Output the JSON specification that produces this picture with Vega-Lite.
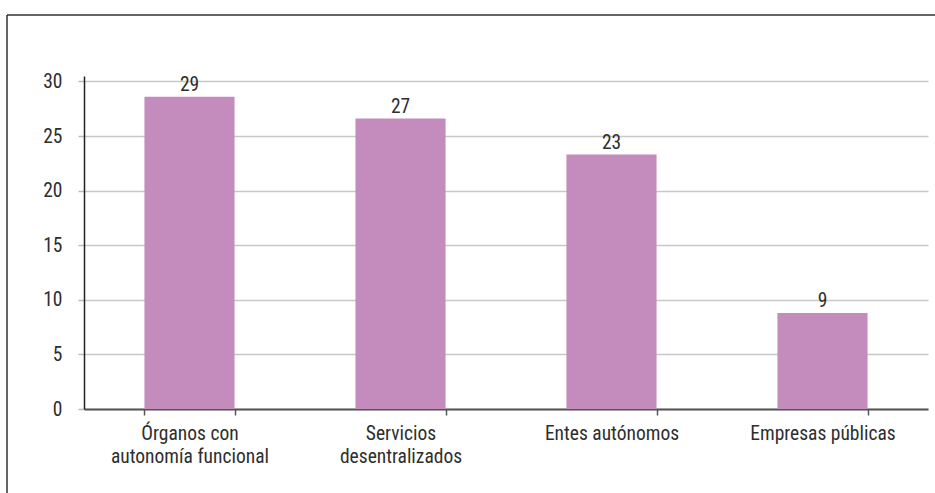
{
  "$schema": "https://vega.github.io/schema/vega-lite/v6.json",
  "width": 928,
  "height": 478,
  "autosize": {"type": "none"},
  "padding": {"left": 7, "top": 15, "right": 0, "bottom": 0},
  "background": "white",
  "config": {
    "font": "Roboto Condensed, Arial Narrow, Roboto, sans-serif",
    "view": {"stroke": "#333333", "strokeWidth": 1.5, "strokeDash": [928, 1406, 478, 0]}
  },
  "data": {
    "values": [
      {"categoria": "Órganos con autonomía funcional", "valor": 28.6},
      {"categoria": "Servicios desentralizados", "valor": 26.6},
      {"categoria": "Entes autónomos", "valor": 23.3},
      {"categoria": "Empresas públicas", "valor": 8.8}
    ]
  },
  "encoding": {
    "x": {
      "field": "categoria",
      "type": "nominal",
      "sort": null,
      "scale": {"range": [77, 921], "paddingInner": 0.573, "paddingOuter": 0.2865},
      "axis": {
        "title": null,
        "orient": "bottom",
        "offset": -84,
        "labelAngle": 0,
        "tickBand": "extent",
        "domainColor": "#555555",
        "domainWidth": 2,
        "tickColor": "#555555",
        "tickWidth": 1.5,
        "tickSize": 6,
        "labelFontSize": 19.5,
        "labelColor": "#2e2e2e",
        "labelPadding": 9,
        "labelLineHeight": 23,
        "labelLimit": 0,
        "labelBaseline": "top",
        "labelExpr": "datum.label == 'Órganos con autonomía funcional' ? ['Órganos con', 'autonomía funcional'] : datum.label == 'Servicios desentralizados' ? ['Servicios', 'desentralizados'] : datum.label"
      }
    },
    "y": {
      "field": "valor",
      "type": "quantitative",
      "scale": {"domain": [0, 30.5], "range": [394, 61], "nice": false},
      "axis": {
        "title": null,
        "orient": "left",
        "offset": -77,
        "values": [0, 5, 10, 15, 20, 25, 30],
        "domainColor": "#222222",
        "domainWidth": 1.5,
        "tickColor": "#bbbbbb",
        "tickWidth": 1.5,
        "tickSize": 6,
        "grid": true,
        "gridColor": "#c8c8c8",
        "gridWidth": 1.5,
        "labelFontSize": 19.5,
        "labelColor": "#2e2e2e",
        "labelPadding": 16
      }
    }
  },
  "layer": [
    {"mark": {"type": "bar", "color": "#C48BBD"}},
    {
      "mark": {"type": "text", "baseline": "alphabetic", "dy": -6, "fontSize": 19.5, "color": "#2e2e2e"},
      "encoding": {"text": {"field": "valor", "type": "quantitative", "format": ".0f"}}
    }
  ]
}
